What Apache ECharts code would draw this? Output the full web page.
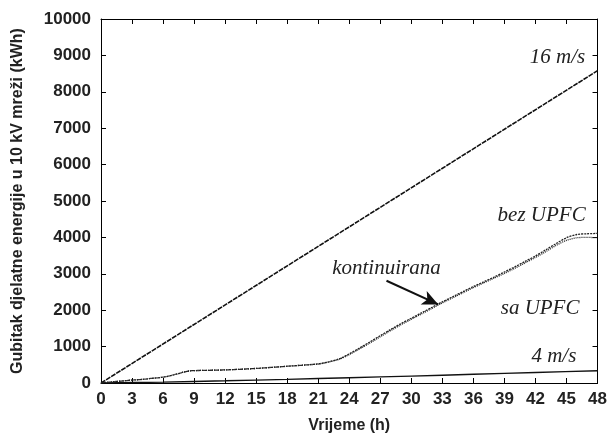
<!DOCTYPE html>
<html>
<head>
<meta charset="utf-8">
<script src="https://cdn.jsdelivr.net/npm/echarts@6/dist/echarts.min.js"></script>
<style>html,body{margin:0;padding:0;background:#fff}#c{width:610px;height:439px}</style>
</head>
<body>
<div id="c"></div>
<script>
// ---- data ----
const hours16 = [0, 48];
const loss16 = [0, 8580];

const hours4 = [0, 6, 12, 18, 24, 30, 36, 42, 48];
const loss4 = [0, 25, 60, 100, 145, 190, 240, 290, 335];

const hoursU = [0, 1, 2, 3, 4, 5, 6, 7, 8, 8.5, 9, 12, 15, 18, 20, 21, 22, 23, 24, 25, 26, 27, 28, 29, 30, 31, 32, 33, 34, 35, 36, 37, 38, 39, 40, 41, 42, 43, 44, 45, 46, 47, 48];
const lossBez = [0, 30, 55, 80, 100, 130, 160, 220, 300, 330, 340, 360, 400, 460, 500, 525, 580, 660, 800, 960, 1130, 1300, 1470, 1630, 1780, 1930, 2080, 2230, 2370, 2510, 2650, 2780, 2910, 3050, 3190, 3340, 3490, 3660, 3830, 3990, 4080, 4100, 4110];
const lossSa  = [0, 30, 55, 80, 100, 130, 160, 220, 300, 330, 340, 360, 400, 460, 500, 520, 575, 650, 780, 940, 1100, 1270, 1440, 1600, 1750, 1900, 2050, 2200, 2340, 2480, 2620, 2750, 2880, 3010, 3150, 3300, 3450, 3610, 3780, 3920, 3990, 4000, 3990];

const xTicks = [0, 3, 6, 9, 12, 15, 18, 21, 24, 27, 30, 33, 36, 39, 42, 45, 48];
const yTicks = [0, 1000, 2000, 3000, 4000, 5000, 6000, 7000, 8000, 9000, 10000];

const arrowFrom = [27.6, 2810];
const arrowTo = [32.6, 2160];

const labelsText = ['16 m/s', 'bez UPFC', 'sa UPFC', '4 m/s', 'kontinuirana'];

// ---- chart ----
const zip = (a, b) => a.map((v, i) => [v, b[i]]);
const chart = echarts.init(document.getElementById('c'), null, {renderer: 'canvas'});
const sans = 'Liberation Sans, Arial, sans-serif';
const serif = 'Liberation Serif, Times New Roman, serif';
const axisLineBase = {show: true, onZero: false, lineStyle: {color: '#000', width: 1}};
const tickBase = {show: true, inside: true, length: 5, lineStyle: {color: '#000'}};
const lblStyle = {fontFamily: serif, fontStyle: 'italic', fontSize: 21, color: '#222'};
const note = (coord, text, pos) => ({
  symbol: 'circle', symbolSize: 1, itemStyle: {color: 'rgba(0,0,0,0)'},
  data: [{coord: coord, value: 0}],
  label: Object.assign({show: true, formatter: text, position: pos, distance: 0}, lblStyle)
});

chart.setOption({
  animation: false,
  backgroundColor: '#fff',
  grid: {left: 101, right: 10, top: 19, bottom: 54},
  xAxis: [
    {type: 'value', min: 0, max: 48, interval: 3, position: 'bottom',
      axisLine: axisLineBase, axisTick: tickBase, splitLine: {show: false},
      name: 'Vrijeme (h)', nameLocation: 'middle', nameGap: 35,
      nameTextStyle: {fontFamily: sans, fontWeight: 'bold', fontSize: 16, color: '#222'},
      axisLabel: {fontFamily: sans, fontWeight: 'bold', fontSize: 17, color: '#222', margin: 8,
        formatter: v => xTicks.includes(v) ? String(v) : ''}},
    {type: 'value', min: 0, max: 48, interval: 3, position: 'top',
      axisLine: axisLineBase, axisTick: tickBase, splitLine: {show: false}, axisLabel: {show: false}}
  ],
  yAxis: [
    {type: 'value', min: 0, max: 10000, interval: 1000, position: 'left',
      axisLine: axisLineBase, axisTick: tickBase, splitLine: {show: false},
      name: 'Gubitak djelatne energije u 10 kV mreži (kWh)', nameLocation: 'middle', nameGap: 75,
      nameTextStyle: {fontFamily: sans, fontWeight: 'bold', fontSize: 16, color: '#222'},
      axisLabel: {fontFamily: sans, fontWeight: 'bold', fontSize: 17, color: '#222', margin: 10,
        formatter: v => yTicks.includes(v) ? String(v) : ''}},
    {type: 'value', min: 0, max: 10000, interval: 1000, position: 'right',
      axisLine: axisLineBase, axisTick: tickBase, splitLine: {show: false}, axisLabel: {show: false}}
  ],
  series: [
    {type: 'line', name: '16 m/s', data: zip(hours16, loss16), showSymbol: false,
      lineStyle: {color: '#111', width: 1.6, type: [5, 1]},
      markPoint: note([46.85, 8930], labelsText[0], 'left')},
    {type: 'line', name: '4 m/s', data: zip(hours4, loss4), showSymbol: false, smooth: 0.2,
      lineStyle: {color: '#111', width: 1.4},
      markPoint: note([46.0, 740], labelsText[3], 'left')},
    {type: 'line', name: 'bez UPFC', data: zip(hoursU, lossBez), showSymbol: false, smooth: 0.3,
      lineStyle: {color: '#222', width: 1.3, type: [2, 1]},
      markPoint: note([46.9, 4600], labelsText[1], 'left')},
    {type: 'line', name: 'sa UPFC', data: zip(hoursU, lossSa), showSymbol: false, smooth: 0.3,
      lineStyle: {color: '#222', width: 1.3, type: [1, 1]},
      markPoint: note([46.3, 2050], labelsText[2], 'left'),
      markLine: {silent: true, symbol: ['none', 'arrow'], symbolSize: [11, 16],
        lineStyle: {color: '#111', width: 2, type: 'solid'}, label: {show: false},
        data: [[{coord: arrowFrom}, {coord: arrowTo}]]}},
    {type: 'line', name: 'kont', data: [[0, null]], showSymbol: false,
      markPoint: note([22.3, 3150], labelsText[4], 'right')}
  ]
});
</script>
</body>
</html>
